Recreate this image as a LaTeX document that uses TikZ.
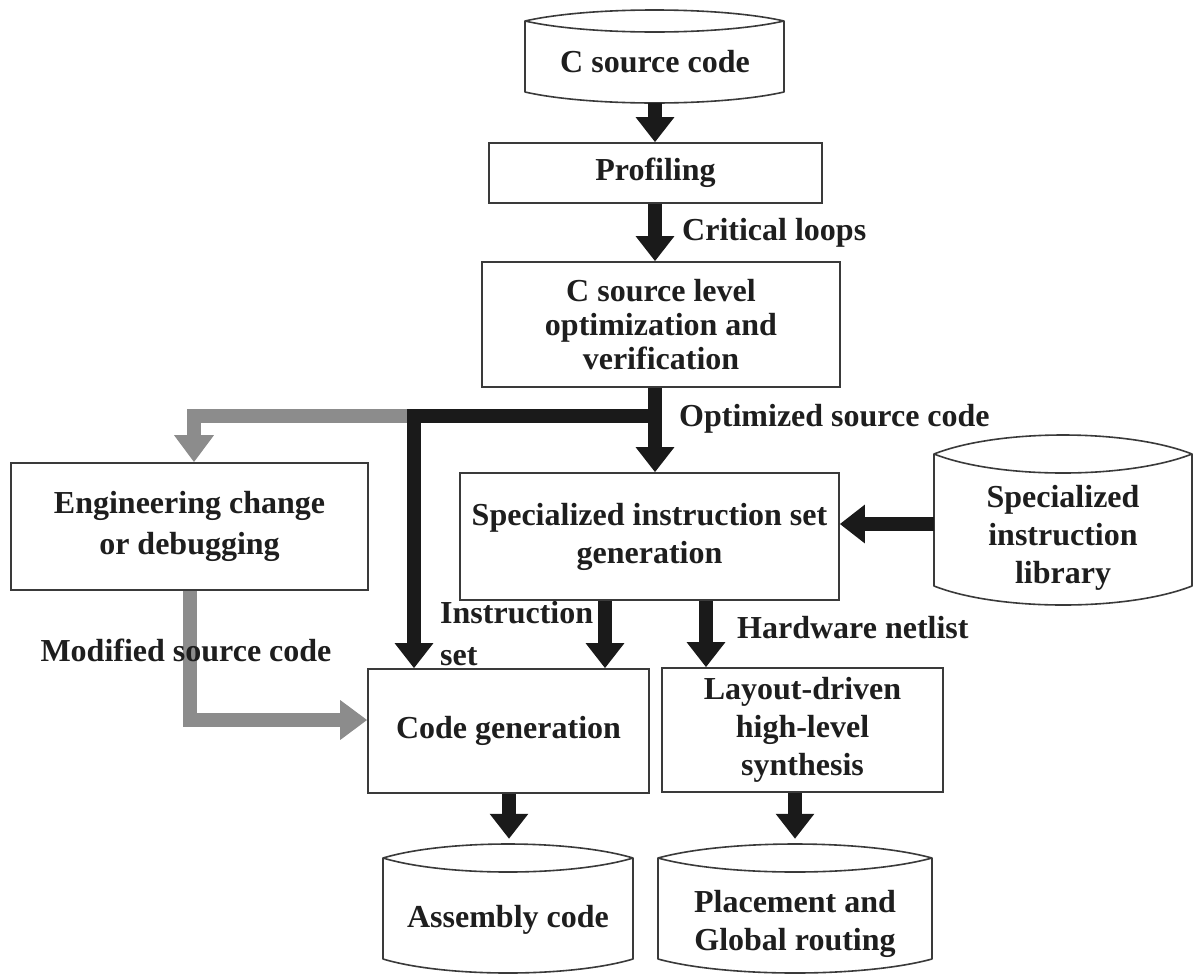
\documentclass[tikz,border=0pt]{standalone}
\usepackage{fontspec}
\setmainfont{Liberation Serif}
\usetikzlibrary{arrows.meta,calc}
\definecolor{txtc}{HTML}{1E1E1E}
\definecolor{linec}{HTML}{3A3A3A}
\definecolor{arrc}{HTML}{1A1A1A}
\definecolor{grayc}{HTML}{8C8C8C}
\tikzset{
  shapeline/.style={draw=linec, line width=1.6pt},
  boxnode/.style={shapeline, inner sep=0pt, align=center, text=txtc,
    font=\fontsize{32}{38}\selectfont\bfseries},
  txt/.style={inner sep=0pt, align=center, text=txtc,
    font=\fontsize{32}{38}\selectfont\bfseries},
  flow/.style={draw=arrc, line width=14pt, line join=miter,
    -{Triangle[width=37pt,length=25pt]}},
  gflow/.style={draw=grayc, line width=14pt, line join=miter,
    -{Triangle[width=38pt,length=27pt]}},
  bar/.style={draw=arrc, line width=14pt, line join=miter},
}
% drum outline: L R T B d (pixel units, y downwards)
\newcommand\drumoutline[5]{%
  \pgfmathsetmacro\drmL{#1}\pgfmathsetmacro\drmR{#2}%
  \pgfmathsetmacro\drmT{#3}\pgfmathsetmacro\drmB{#4}\pgfmathsetmacro\drmD{#5}%
  \pgfmathsetmacro\drmQa{\drmL+(\drmR-\drmL)/4}%
  \pgfmathsetmacro\drmQb{\drmR-(\drmR-\drmL)/4}%
  \pgfmathsetmacro\drmYc{\drmT+\drmD}%
  \pgfmathsetmacro\drmYu{\drmT+\drmD-4*\drmD/3}%
  \pgfmathsetmacro\drmYl{\drmT+\drmD+4*\drmD/3}%
  \pgfmathsetmacro\drmYb{\drmB-\drmD}%
  \pgfmathsetmacro\drmYbb{\drmB-\drmD+4*\drmD/3}%
  \draw[shapeline, line join=round]
    (\drmL,\drmYc) .. controls (\drmQa,\drmYu) and (\drmQb,\drmYu) .. (\drmR,\drmYc)
    .. controls (\drmQb,\drmYl) and (\drmQa,\drmYl) .. (\drmL,\drmYc)
    -- (\drmL,\drmYb) .. controls (\drmQa,\drmYbb) and (\drmQb,\drmYbb) .. (\drmR,\drmYb)
    -- (\drmR,\drmYc);
}
\newcommand\drumnode[6]{% name L R T B d
  \drumoutline{#2}{#3}{#4}{#5}{#6}%
  \node[inner sep=0pt, minimum width={#3-#2}, minimum height={#5-#4}]
    (#1) at ({(#2+#3)/2},{(#4+#5)/2}) {};
}
\begin{document}
\begin{tikzpicture}[x=1pt,y=-1pt]
\useasboundingbox[fill=white] (0,0) rectangle (1199,975);

% ---------- drums ----------
\drumnode{csrc}{525}{784}{10}{103}{11}
\node[txt] (csrcT) at (655,62) {C source code};

\drumnode{lib}{934}{1192}{435}{605}{19}
\node[txt] (libT) at (1063,538) {Specialized\\instruction\\library};

\drumnode{asm}{383}{633}{844}{973}{14}
\node[txt] (asmT) at (508,920) {Assembly code};

\drumnode{place}{658}{932}{844}{973}{14}
\node[txt] (placeT) at (795,924) {Placement and\\Global routing};

% ---------- boxes ----------
\node[boxnode, minimum width=333, minimum height=60] (prof) at (655.5,173) {Profiling};
\node[boxnode, minimum width=358, minimum height=125,
      font=\fontsize{32}{34}\selectfont\bfseries] (copt) at (661,324.5)
      {C source level\\optimization and\\verification};
\node[boxnode, minimum width=379, minimum height=127] (spec) at (649.5,536.5)
      {Specialized instruction set\\generation};
\node[boxnode, minimum width=357, minimum height=127,
      font=\fontsize{32}{41}\selectfont\bfseries] (eng) at (189.5,526.5)
      {Engineering change\\or debugging};
\node[boxnode, minimum width=281, minimum height=124] (cgen) at (508.5,731)
      {Code generation};
\node[boxnode, minimum width=281, minimum height=124] (lay) at (802.5,730)
      {Layout-driven\\high-level\\synthesis};

% ---------- helper coordinates ----------
\coordinate (xM) at (655,0);
\coordinate (jA) at (655,416);
\coordinate (jB) at (414,416);
\coordinate (gA) at (194,416);
\coordinate (gB) at (190,720);
\coordinate (xI) at (605,0);
\coordinate (xH) at (706,0);
\coordinate (xA) at (509,0);
\coordinate (xP) at (795,0);
\coordinate (yL) at (0,524);

% ---------- gray connectors ----------
\draw[gflow] (jB) -- (gA) -- (gA |- eng.north);
\draw[gflow] (gB |- eng.south) -- (gB) -- (cgen.west |- gB);

% ---------- black connectors ----------
\draw[flow] (xM |- csrc.south) -- (xM |- prof.north);
\draw[flow] (xM |- prof.south) -- (xM |- copt.north);
\draw[flow] (xM |- copt.south) -- (xM |- spec.north);
\draw[flow] (jA) -- (jB) -- (jB |- cgen.north);
\draw[flow] (lib.west |- yL) -- (spec.east |- yL);
\draw[flow] (xI |- spec.south) -- (xI |- cgen.north);
\draw[flow] (xH |- spec.south) -- (xH |- lay.north);
\draw[flow] (xA |- cgen.south) -- ($(xA |- asm.north)+(0,-5)$);
\draw[flow] (xP |- lay.south) -- ($(xP |- place.north)+(0,-5)$);

% ---------- labels ----------
\node[txt, anchor=west] (lCrit) at (682,233) {Critical loops};
\node[txt, anchor=west] (lOpt) at (679,419) {Optimized source code};
\node[txt, anchor=west, align=left, font=\fontsize{32}{42}\selectfont\bfseries]
      (lInst) at (440,634) {Instruction\\set};
\node[txt, anchor=west] (lHw) at (737,628) {Hardware netlist};
\node[txt] (lMod) at (186,650) {Modified source code};
\end{tikzpicture}
\end{document}
